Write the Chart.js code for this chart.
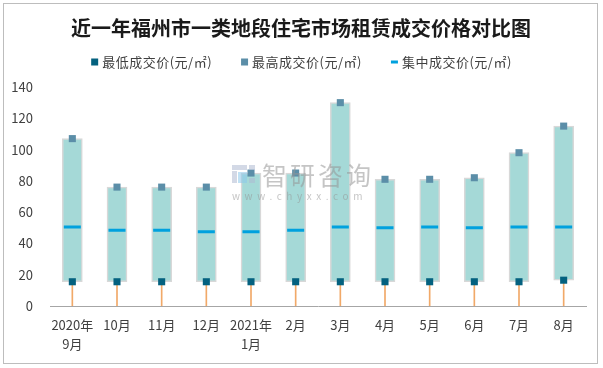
<!DOCTYPE html>
<html>
<head>
<meta charset="utf-8">
<script src="https://cdn.jsdelivr.net/npm/chart.js@4/dist/chart.umd.min.js"></script>
<style>
  html, body { margin: 0; padding: 0; background: #ffffff; }
  #wrap { width: 603px; height: 368px; position: relative; }
</style>
</head>
<body>
<div id="wrap"><canvas id="c" width="603" height="368"></canvas></div>
<script>
const titleText = '近一年福州市一类地段住宅市场租赁成交价格对比图';
const categories = [['2020年', '9月'], '10月', '11月', '12月', ['2021年', '1月'], '2月', '3月', '4月', '5月', '6月', '7月', '8月'];
const lowValues = [15.5, 15.5, 15.5, 15.5, 15.5, 15.5, 15.5, 15.5, 15.5, 15.5, 15.5, 16.5];
const highValues = [107, 76, 76, 76, 85, 85, 130, 81, 81, 82, 98, 115];
const medianValues = [50.5, 48.5, 48.5, 47.5, 47.5, 48.5, 50.5, 50, 50.5, 50, 50.5, 50.5];
const seriesNames = ['最低成交价(元/㎡)', '最高成交价(元/㎡)', '集中成交价(元/㎡)'];
const yTicks = [0, 20, 40, 60, 80, 100, 120, 140];

const FONT = '"Noto Sans CJK SC", "Microsoft YaHei", sans-serif';
const COLORS = {
  low: '#04617F',
  high: '#5B8EA8',
  median: '#00A1DE',
  range: '#A5D9D7',
  rangeBorder: '#D8D8D8',
  drop: '#F1A968',
  text: '#404040'
};

const decorPlugin = {
  id: 'decor',
  beforeDraw(chart) {
    const ctx = chart.ctx;
    ctx.save();
    ctx.fillStyle = '#ffffff';
    ctx.fillRect(0, 0, chart.width, chart.height);
    ctx.strokeStyle = '#BDBDBD';
    ctx.lineWidth = 1;
    ctx.strokeRect(3.5, 3.5, 594, 360);
    // title
    ctx.fillStyle = '#1a1a1a';
    ctx.font = 'bold 20px ' + FONT;
    ctx.textAlign = 'center';
    ctx.textBaseline = 'middle';
    ctx.fillText(titleText, 301, 28);
    // legend
    ctx.font = '13px ' + FONT;
    ctx.letterSpacing = '0.5px';
    const markerW = 7, gapText = 4, gapItem = 29;
    const widths = seriesNames.map(n => ctx.measureText(n).width);
    const total = widths.reduce((a, b) => a + b, 0) + 3 * (markerW + gapText) + 2 * gapItem;
    let x = 301.5 - total / 2;
    const y = 62;
    const colors = [COLORS.low, COLORS.high, COLORS.median];
    ctx.textAlign = 'left';
    seriesNames.forEach((n, i) => {
      ctx.fillStyle = colors[i];
      if (i < 2) {
        ctx.fillRect(x, y - 3.5, markerW, markerW);
      } else {
        ctx.fillRect(x, y - 1.5, markerW, 3);
      }
      ctx.fillStyle = COLORS.text;
      ctx.fillText(n, x + markerW + gapText, y + 0.5);
      x += markerW + gapText + widths[i] + gapItem;
    });
    ctx.letterSpacing = '0px';
    ctx.restore();
  },
  afterDatasetsDraw(chart) {
    // watermark
    const ctx = chart.ctx;
    ctx.save();
    ctx.fillStyle = 'rgba(175,185,210,0.55)';
    ctx.fillRect(232, 165, 15, 5);
    ctx.fillRect(232, 171, 5, 12);
    ctx.fillStyle = 'rgba(140,200,235,0.55)';
    ctx.fillRect(238, 172, 9, 11);
    ctx.fillStyle = 'rgba(175,185,210,0.55)';
    ctx.fillRect(249, 165, 6, 5);
    ctx.fillRect(249, 178, 6, 5);
    ctx.fillStyle = 'rgba(150,150,150,0.55)';
    ctx.font = '25px ' + FONT;
    ctx.textAlign = 'left';
    ctx.textBaseline = 'middle';
    ctx.letterSpacing = '3px';
    ctx.fillText('智研咨询', 262, 175);
    ctx.font = '10px ' + FONT;
    ctx.letterSpacing = '4.6px';
    ctx.fillText('www.chyxx.com', 232, 196);
    ctx.restore();
  }
};

new Chart(document.getElementById('c'), {
  type: 'bar',
  data: {
    labels: categories,
    datasets: [
      {
        type: 'line',
        label: seriesNames[0],
        data: lowValues,
        showLine: false,
        pointStyle: 'rect',
        pointRadius: 5,
        pointHoverRadius: 5,
        pointBackgroundColor: COLORS.low,
        pointBorderWidth: 0,
        backgroundColor: COLORS.low,
        borderColor: COLORS.low,
        order: 1
      },
      {
        type: 'line',
        label: seriesNames[1],
        data: highValues,
        showLine: false,
        pointStyle: 'rect',
        pointRadius: 5,
        pointHoverRadius: 5,
        pointBackgroundColor: COLORS.high,
        pointBorderWidth: 0,
        backgroundColor: COLORS.high,
        borderColor: COLORS.high,
        order: 1
      },
      {
        type: 'line',
        label: seriesNames[2],
        data: medianValues,
        showLine: false,
        pointStyle: 'line',
        pointRadius: 8.5,
        pointHoverRadius: 8.5,
        pointBorderColor: COLORS.median,
        pointBorderWidth: 3,
        borderColor: COLORS.median,
        backgroundColor: COLORS.median,
        order: 2
      },
      {
        type: 'bar',
        label: 'range',
        data: highValues.map((h, i) => [lowValues[i], h]),
        backgroundColor: COLORS.range,
        borderColor: COLORS.rangeBorder,
        borderWidth: 1.5,
        borderSkipped: false,
        barThickness: 20,
        grouped: false,
        order: 4
      },
      {
        type: 'bar',
        label: 'drop',
        data: lowValues.map(l => [0, l]),
        backgroundColor: COLORS.drop,
        borderWidth: 0,
        barThickness: 1,
        grouped: false,
        order: 3
      }
    ]
  },
  options: {
    responsive: false,
    animation: false,
    events: [],
    layout: { padding: { top: 87, left: 6, right: 17, bottom: 8 } },
    plugins: {
      legend: { display: false },
      title: { display: false },
      tooltip: { enabled: false }
    },
    scales: {
      x: {
        offset: true,
        grid: { display: false, drawTicks: false },
        border: { display: true, color: '#A6A6A6', width: 1 },
        ticks: {
          color: COLORS.text,
          font: { family: FONT, size: 13, lineHeight: 1.5 },
          padding: 9,
          maxRotation: 0,
          autoSkip: false
        },
        afterFit(s) { s.height = 54; }
      },
      y: {
        min: 0,
        max: 140,
        afterBuildTicks(s) { s.ticks = yTicks.map(v => ({ value: v })); },
        grid: { display: false, drawTicks: false },
        border: { display: false },
        ticks: {
          color: COLORS.text,
          font: { family: FONT, size: 13 },
          padding: 17
        },
        afterFit(s) { s.width = 44; }
      }
    }
  },
  plugins: [decorPlugin]
});
</script>
</body>
</html>
